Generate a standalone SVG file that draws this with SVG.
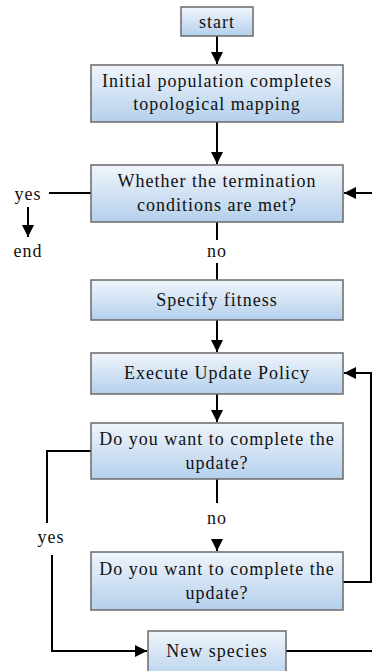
<svg xmlns="http://www.w3.org/2000/svg" width="372" height="671" viewBox="0 0 372 671">
<defs>
<linearGradient id="g" x1="0" y1="0" x2="0" y2="1">
<stop offset="0" stop-color="#f0f5fb"/>
<stop offset="1" stop-color="#b4d0ec"/>
</linearGradient>
<marker id="ah" viewBox="0 0 10 10" refX="10" refY="5" markerWidth="12" markerHeight="12" markerUnits="userSpaceOnUse" orient="auto">
<path d="M0,0 L10,5 L0,10 Z" fill="#000"/>
</marker>
</defs>
<style>
.box{fill:url(#g);stroke:#6a6a6a;stroke-width:1.5}
.t{font-family:'Liberation Serif','Times New Roman','DejaVu Serif',serif;font-size:18px;letter-spacing:1px;fill:#111;text-anchor:middle}
.c{fill:none;stroke:#000;stroke-width:2}
</style>
<rect width="372" height="671" fill="#fff"/>
<g id="connectors">
<path class="c" d="M217,36 V64" marker-end="url(#ah)"/>
<path class="c" d="M217,122 V164" marker-end="url(#ah)"/>
<path class="c" d="M49,193 H91"/>
<path class="c" d="M28,207 V237" marker-end="url(#ah)"/>
<path class="c" d="M372,193 H344" marker-end="url(#ah)"/>
<path class="c" d="M217,222 V240"/>
<path class="c" d="M217,263 V280"/>
<path class="c" d="M217,320 V352" marker-end="url(#ah)"/>
<path class="c" d="M217,394 V422" marker-end="url(#ah)"/>
<path class="c" d="M217,479 V503"/>
<path class="c" d="M217,540 V551" marker-end="url(#ah)"/>
<path class="c" d="M343,582 H371 V373 H344" marker-end="url(#ah)"/>
<path class="c" d="M91,451 H47 V523"/>
<path class="c" d="M52,555 V651 H147" marker-end="url(#ah)"/>
<path class="c" d="M286,651 H372"/>
<text class="t" x="28" y="200">yes</text>
<text class="t" x="28" y="257">end</text>
<text class="t" x="217" y="257">no</text>
<text class="t" x="217" y="524">no</text>
<text class="t" x="51" y="543">yes</text>
</g>
<g id="start"><rect class="box" x="181" y="7" width="72" height="29"/><text class="t" x="217" y="28">start</text></g>
<g id="init"><rect class="box" x="91" y="65" width="252" height="57"/><text class="t" x="217" y="87">Initial population completes</text><text class="t" x="217" y="110">topological mapping</text></g>
<g id="term"><rect class="box" x="91" y="165" width="252" height="57"/><text class="t" x="217" y="187">Whether the termination</text><text class="t" x="217" y="211">conditions are met?</text></g>
<g id="fitness"><rect class="box" x="91" y="280" width="252" height="40"/><text class="t" x="217" y="306">Specify fitness</text></g>
<g id="policy"><rect class="box" x="91" y="353" width="252" height="41"/><text class="t" x="217" y="379">Execute Update Policy</text></g>
<g id="q1"><rect class="box" x="91" y="423" width="252" height="56"/><text class="t" x="217" y="445">Do you want to complete the</text><text class="t" x="217" y="469">update?</text></g>
<g id="q2"><rect class="box" x="91" y="552" width="252" height="58"/><text class="t" x="217" y="575">Do you want to complete the</text><text class="t" x="217" y="599">update?</text></g>
<g id="species"><rect class="box" x="148" y="631" width="138" height="50"/><text class="t" x="217" y="657">New species</text></g>
</svg>
